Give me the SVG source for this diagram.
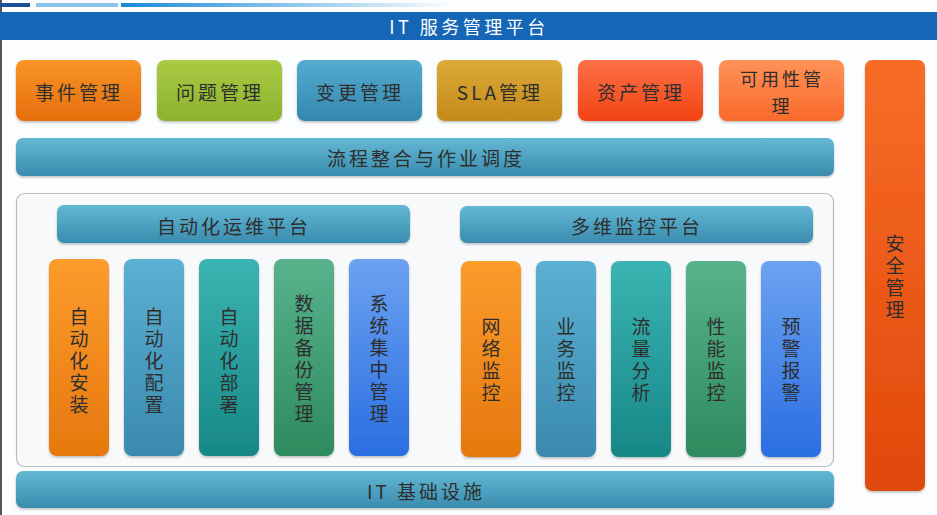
<svg xmlns="http://www.w3.org/2000/svg" width="937" height="515" viewBox="0 0 937 515">
<defs>
<linearGradient id="gBar" x1="0" y1="0" x2="0" y2="1"><stop offset="0" stop-color="#64b8d4"/><stop offset="1" stop-color="#3a8cae"/></linearGradient>
<linearGradient id="gOrange" x1="0" y1="0" x2="0" y2="1"><stop offset="0" stop-color="#fa9428"/><stop offset="1" stop-color="#e46e0c"/></linearGradient>
<linearGradient id="gGreen" x1="0" y1="0" x2="0" y2="1"><stop offset="0" stop-color="#aacb44"/><stop offset="1" stop-color="#8cb22c"/></linearGradient>
<linearGradient id="gSteel" x1="0" y1="0" x2="0" y2="1"><stop offset="0" stop-color="#55acd0"/><stop offset="1" stop-color="#3487ad"/></linearGradient>
<linearGradient id="gGold" x1="0" y1="0" x2="0" y2="1"><stop offset="0" stop-color="#dcaa38"/><stop offset="1" stop-color="#c48a1a"/></linearGradient>
<linearGradient id="gRed" x1="0" y1="0" x2="0" y2="1"><stop offset="0" stop-color="#ff7048"/><stop offset="1" stop-color="#f24412"/></linearGradient>
<linearGradient id="gLtOrange" x1="0" y1="0" x2="0" y2="1"><stop offset="0" stop-color="#ff9258"/><stop offset="1" stop-color="#f86a2a"/></linearGradient>
<linearGradient id="gSec" x1="0" y1="0" x2="0" y2="1"><stop offset="0" stop-color="#f86c28"/><stop offset="1" stop-color="#e0480a"/></linearGradient>
<linearGradient id="cOrange" x1="0" y1="0" x2="0" y2="1"><stop offset="0" stop-color="#fc9c2c"/><stop offset="1" stop-color="#e6780e"/></linearGradient>
<linearGradient id="cSteel" x1="0" y1="0" x2="0" y2="1"><stop offset="0" stop-color="#5cb0d2"/><stop offset="1" stop-color="#3a8aae"/></linearGradient>
<linearGradient id="cTeal" x1="0" y1="0" x2="0" y2="1"><stop offset="0" stop-color="#3ab4b2"/><stop offset="1" stop-color="#178886"/></linearGradient>
<linearGradient id="cGreen" x1="0" y1="0" x2="0" y2="1"><stop offset="0" stop-color="#58b38c"/><stop offset="1" stop-color="#2e8a5e"/></linearGradient>
<linearGradient id="cBlue" x1="0" y1="0" x2="0" y2="1"><stop offset="0" stop-color="#6ca2f0"/><stop offset="1" stop-color="#2a6ee2"/></linearGradient>
<linearGradient id="gStrip" x1="0" y1="0" x2="1" y2="0"><stop offset="0" stop-color="#1a8ad8"/><stop offset="1" stop-color="#1a8ad8" stop-opacity="0"/></linearGradient>
<filter id="sh" x="-10%" y="-10%" width="120%" height="130%"><feDropShadow dx="0" dy="1.5" stdDeviation="1.2" flood-color="#000" flood-opacity="0.25"/></filter>
</defs>
<style>
text{font-family:"Noto Sans CJK SC","Liberation Sans",sans-serif;fill:#2e2e2e;text-anchor:middle;dominant-baseline:central}
.t{font-size:19px;letter-spacing:3px}
.t2{font-size:18px;letter-spacing:3px}
.vt{font-size:19px;letter-spacing:3px;writing-mode:vertical-rl}
.title{font-size:18px;fill:#ffffff;letter-spacing:3.5px}
</style>
<rect x="0" y="0" width="937" height="515" fill="#fbfdfe"/>
<rect x="0" y="0" width="2" height="515" fill="#555"/>
<g id="strips">
<rect x="0" y="3" width="30" height="4" fill="#1b4f96"/>
<rect x="36" y="3" width="82" height="4" fill="#8fc4ea"/>
<rect x="121" y="3" width="330" height="4" fill="url(#gStrip)"/>
</g>
<g id="header">
<rect x="0" y="12" width="937" height="28" fill="#1566b6"/>
<text class="title" x="469" y="26">IT 服务管理平台</text>
</g>
<g id="n-event"><rect x="16" y="60" width="125" height="61" rx="8" fill="url(#gOrange)" filter="url(#sh)"/><text class="t" x="79" y="91">事件管理</text></g>
<g id="n-problem"><rect x="157" y="60" width="125" height="61" rx="8" fill="url(#gGreen)" filter="url(#sh)"/><text class="t" x="220" y="91">问题管理</text></g>
<g id="n-change"><rect x="297" y="60" width="125" height="61" rx="8" fill="url(#gSteel)" filter="url(#sh)"/><text class="t" x="360" y="91">变更管理</text></g>
<g id="n-sla"><rect x="437" y="60" width="125" height="61" rx="8" fill="url(#gGold)" filter="url(#sh)"/><text class="t" x="500" y="91">SLA管理</text></g>
<g id="n-asset"><rect x="578" y="60" width="125" height="61" rx="8" fill="url(#gRed)" filter="url(#sh)"/><text class="t" x="641" y="91">资产管理</text></g>
<g id="n-avail"><rect x="719" y="60" width="125" height="61" rx="8" fill="url(#gLtOrange)" filter="url(#sh)"/><text class="t2"><tspan x="782" y="78">可用性管</tspan><tspan x="782" y="104.5">理</tspan></text></g>
<g id="n-security"><rect x="865" y="60" width="60" height="431" rx="7" fill="url(#gSec)" filter="url(#sh)"/>
<text class="vt" x="895" y="278">安全管理</text></g>
<g id="n-process"><rect x="16" y="138" width="818" height="38" rx="7" fill="url(#gBar)" filter="url(#sh)"/><text class="t" x="426" y="157">流程整合与作业调度</text></g>
<g id="container"><rect x="16.5" y="193.5" width="817" height="273" rx="8" fill="#f7f9fa" stroke="#b8bcc0" stroke-width="1.2"/></g>
<g id="n-auto"><rect x="57" y="205" width="353" height="38" rx="7" fill="url(#gBar)" filter="url(#sh)"/><text class="t" x="234" y="225">自动化运维平台</text></g>
<g id="n-monitor"><rect x="460" y="206" width="353" height="37" rx="7" fill="url(#gBar)" filter="url(#sh)"/><text class="t" x="637" y="225">多维监控平台</text></g>
<g id="c-install"><rect x="49" y="259" width="60" height="197" rx="8" fill="url(#cOrange)" filter="url(#sh)"/><text class="vt" x="79" y="362">自动化安装</text></g>
<g id="c-config"><rect x="124" y="259" width="60" height="197" rx="8" fill="url(#cSteel)" filter="url(#sh)"/><text class="vt" x="154" y="362">自动化配置</text></g>
<g id="c-deploy"><rect x="199" y="259" width="60" height="197" rx="8" fill="url(#cTeal)" filter="url(#sh)"/><text class="vt" x="229" y="362">自动化部署</text></g>
<g id="c-backup"><rect x="274" y="259" width="60" height="197" rx="8" fill="url(#cGreen)" filter="url(#sh)"/><text class="vt" x="304" y="360">数据备份管理</text></g>
<g id="c-central"><rect x="349" y="259" width="60" height="197" rx="8" fill="url(#cBlue)" filter="url(#sh)"/><text class="vt" x="379" y="360">系统集中管理</text></g>
<g id="c-network"><rect x="461" y="261" width="60" height="196" rx="8" fill="url(#cOrange)" filter="url(#sh)"/><text class="vt" x="491" y="361">网络监控</text></g>
<g id="c-business"><rect x="536" y="261" width="60" height="196" rx="8" fill="url(#cSteel)" filter="url(#sh)"/><text class="vt" x="566" y="361">业务监控</text></g>
<g id="c-traffic"><rect x="611" y="261" width="60" height="196" rx="8" fill="url(#cTeal)" filter="url(#sh)"/><text class="vt" x="641" y="361">流量分析</text></g>
<g id="c-perf"><rect x="686" y="261" width="60" height="196" rx="8" fill="url(#cGreen)" filter="url(#sh)"/><text class="vt" x="716" y="361">性能监控</text></g>
<g id="c-alert"><rect x="761" y="261" width="60" height="196" rx="8" fill="url(#cBlue)" filter="url(#sh)"/><text class="vt" x="791" y="361">预警报警</text></g>
<g id="n-infra"><rect x="16" y="471" width="818" height="37" rx="7" fill="url(#gBar)" filter="url(#sh)"/><text class="t" x="426" y="490">IT 基础设施</text></g>
<g id="connectors"/>
</svg>
